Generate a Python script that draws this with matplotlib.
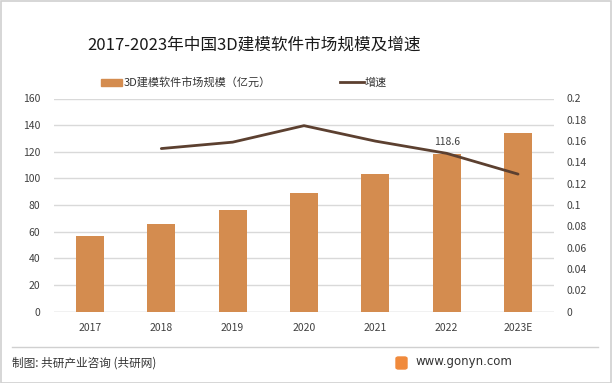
import matplotlib
matplotlib.use("Agg")
import matplotlib.pyplot as plt
from matplotlib.patches import Rectangle, FancyBboxPatch
from matplotlib.lines import Line2D

plt.rcParams['font.family'] = ['Noto Sans CJK SC', 'DejaVu Sans']

years = ["2017", "2018", "2019", "2020", "2021", "2022", "2023E"]
market_size = [56.8, 65.8, 76.2, 89.1, 103.4, 118.6, 134.2]
growth_years = ["2018", "2019", "2020", "2021", "2022", "2023E"]
growth = [0.153, 0.159, 0.1745, 0.160, 0.1485, 0.129]
left_ticks = [0, 20, 40, 60, 80, 100, 120, 140, 160]
right_ticks = [0, 0.02, 0.04, 0.06, 0.08, 0.1, 0.12, 0.14, 0.16, 0.18, 0.2]
right_labels = ["0", "0.02", "0.04", "0.06", "0.08", "0.1", "0.12", "0.14", "0.16", "0.18", "0.2"]

W, H = 612, 383
fig = plt.figure(figsize=(W / 100, H / 100), dpi=100)

bar_color = "#D48C4F"
line_color = "#5C4030"
tick_color = "#404040"

ax = fig.add_axes([54.3 / W, 1 - 311.5 / H, (553.7 - 54.3) / W, (311.5 - 98.5) / H])
x = list(range(len(years)))
ax.bar(x, market_size, width=0.39, color=bar_color, zorder=2)
ax.set_ylim(0, 160)
ax.set_xlim(-0.5, len(years) - 0.5)
ax.set_yticks(left_ticks)
ax.set_xticks(x)
ax.set_xticklabels(years)
ax.grid(axis='y', color="#D9D9D9", linewidth=1, zorder=0)
for s in ax.spines.values():
    s.set_visible(False)
ax.tick_params(axis='both', length=0, labelsize=7.5, colors=tick_color)
ax.tick_params(axis='y', pad=10)
ax.tick_params(axis='x', pad=8)
ax.axhline(0, color="#D9D9D9", linewidth=1, zorder=1)
ax.annotate("118.6", (5, 118.6), xytext=(0, 5), textcoords='offset points',
            ha='center', va='bottom', fontsize=7.5, color=tick_color)

ax2 = ax.twinx()
gx = [years.index(g) for g in growth_years]
ax2.plot(gx, growth, color=line_color, linewidth=2, solid_capstyle='round', zorder=3)
ax2.set_ylim(0, 0.2)
ax2.set_yticks(right_ticks)
ax2.set_yticklabels(right_labels)
for s in ax2.spines.values():
    s.set_visible(False)
ax2.tick_params(axis='y', length=0, labelsize=7.5, colors=tick_color, pad=9)

# title
fig.text(254 / W, 1 - 45 / H, "2017-2023年中国3D建模软件市场规模及增速", ha='center', va='center',
         fontsize=12, color="#1a1a1a")

# legend
fig.patches.append(Rectangle((101 / W, 1 - 86 / H), 21 / W, 7 / H, transform=fig.transFigure,
                             color=bar_color))
fig.text(124 / W, 1 - 82.5 / H, "3D建模软件市场规模（亿元）", ha='left', va='center',
         fontsize=8, color="#333333")
fig.lines.append(Line2D([340 / W, 364 / W], [1 - 82 / H, 1 - 82 / H], transform=fig.transFigure,
                        color=line_color, linewidth=2))
fig.text(365 / W, 1 - 82.5 / H, "增速", ha='left', va='center', fontsize=8, color="#333333")

# footer
fig.lines.append(Line2D([12 / W, 598 / W], [1 - 347 / H, 1 - 347 / H], transform=fig.transFigure,
                        color="#D0D0D0", linewidth=1))
fig.text(12 / W, 1 - 363 / H, "制图: 共研产业咨询 (共研网)", ha='left', va='center',
         fontsize=8.4, color="#333333")
fig.patches.append(FancyBboxPatch((396 / W, 1 - 369 / H), 11 / W, 12 / H, transform=fig.transFigure,
                                  boxstyle="round,pad=0,rounding_size=0.004", color="#F08A3C"))
fig.text(415 / W, 1 - 362 / H, "www.gonyn.com", ha='left', va='center',
         fontsize=8.5, color="#333333", family=['DejaVu Sans'])

# outer border
fig.patches.append(Rectangle((0.5 / W, 0.5 / H), 1 - 1.5 / W, 1 - 1.5 / H, transform=fig.transFigure,
                             fill=False, edgecolor="#D0D0D0", linewidth=1.2))

fig.savefig("out.png", dpi=100)
